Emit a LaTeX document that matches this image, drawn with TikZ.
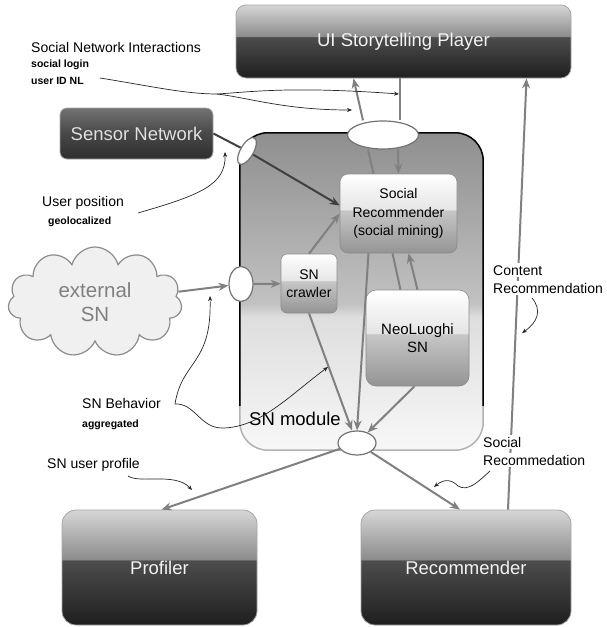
\documentclass[tikz,border=0pt]{standalone}
\usepackage{fontspec}
\setmainfont{Liberation Sans}
\usetikzlibrary{shapes.geometric,shapes.symbols,arrows.meta}
\pgfdeclarelayer{fg}
\pgfsetlayers{main,fg}
\pgfdeclareverticalshading{darkgloss}{100bp}{rgb(0bp)=(0.12,0.12,0.12); rgb(25bp)=(0.12,0.12,0.12); rgb(53bp)=(0.30,0.30,0.30); rgb(53.6bp)=(0.55,0.55,0.55); rgb(75bp)=(0.84,0.84,0.84); rgb(100bp)=(0.84,0.84,0.84)}
\pgfdeclareverticalshading{sensorsh}{100bp}{rgb(0bp)=(0.18,0.18,0.18); rgb(25bp)=(0.18,0.18,0.18); rgb(50bp)=(0.28,0.28,0.28); rgb(75bp)=(0.45,0.45,0.45); rgb(100bp)=(0.45,0.45,0.45)}
\pgfdeclareverticalshading{lightgloss}{100bp}{rgb(0bp)=(0.58,0.58,0.58); rgb(25bp)=(0.58,0.58,0.58); rgb(52bp)=(0.78,0.78,0.78); rgb(52.6bp)=(0.9,0.9,0.9); rgb(75bp)=(1,1,1); rgb(100bp)=(1,1,1)}
\pgfdeclareverticalshading{contsh}{100bp}{rgb(0bp)=(0.97,0.97,0.97); rgb(25bp)=(0.97,0.97,0.97); rgb(46bp)=(0.87,0.87,0.87); rgb(48bp)=(0.76,0.76,0.76); rgb(75bp)=(0.56,0.56,0.56); rgb(100bp)=(0.56,0.56,0.56)}
\begin{document}
\begin{tikzpicture}[x=1pt,y=-1pt,
  darkbox/.style={rectangle, rounded corners=10pt, shading=darkgloss, draw=black!35, line width=0.8pt, text=white!95!black, font=\fontsize{18.5}{22}\selectfont, inner sep=0pt},
  lightbox/.style={rectangle, rounded corners=8pt, shading=lightgloss, draw=black!45, line width=0.6pt, text=black, font=\fontsize{14}{18.5}\selectfont, align=center, inner sep=0pt},
  port/.style={ellipse, fill=white, draw=black!55, line width=1.2pt, inner sep=0pt},
  garrow/.style={draw=black!50, line width=2pt, -{Stealth[length=10pt,width=8pt]}},
  gline/.style={draw=black!50, line width=2pt},
  darrow/.style={draw=black!75, line width=2pt, -{Stealth[length=10pt,width=8pt]}},
  dline/.style={draw=black!75, line width=2pt},
  tarrow/.style={draw=black!85, line width=0.7pt, -{Stealth[length=5pt,width=4pt]}},
  tline/.style={draw=black!85, line width=0.7pt},
  lbl/.style={anchor=base west, inner sep=0pt, font=\fontsize{14}{17}\selectfont},
  sublbl/.style={anchor=base west, inner sep=0pt, font=\bfseries\fontsize{10.5}{12}\selectfont},
  wlbl/.style={anchor=base west, inner sep=2pt, fill=white, font=\fontsize{14}{17}\selectfont}
]
\useasboundingbox (0,0) rectangle (606,627);
% SN module container
\node[rectangle, rounded corners=28pt, shading=contsh, minimum width=243pt, minimum height=317pt, inner sep=0pt] (cont) at (361.5,291.5) {};
\draw[black!30, line width=1.5pt, rounded corners=28pt] (cont.south west) rectangle (cont.north east);
\begin{scope}
  \clip (230,120) rectangle (495,405);
  \draw[black, line width=1.5pt, rounded corners=28pt] (cont.south west) rectangle (cont.north east);
\end{scope}
\node[lbl, font=\fontsize{18.5}{22}\selectfont] (snmod) at (249,425) {SN module};

% boxes
\node[darkbox, minimum width=335pt, minimum height=73pt] (ui) at (403.5,41.5) {UI Storytelling Player};
\node[darkbox, shading=sensorsh, rounded corners=7pt, minimum width=153pt, minimum height=51pt, text=white!88!black] (sensor) at (136.5,133.5) {Sensor Network};
\node[darkbox, minimum width=195pt, minimum height=115pt, rounded corners=14pt] (prof) at (159.5,567.5) {Profiler};
\node[darkbox, minimum width=210pt, minimum height=115pt, rounded corners=14pt] (rec) at (466,567.5) {Recommender};
\node[lightbox, minimum width=117pt, minimum height=79pt] (sr) at (398.5,213.5) {Social\\Recommender\\(social mining)};
\node[lightbox, minimum width=56pt, minimum height=59pt, rounded corners=6pt] (crawl) at (309,283.5) {SN\\crawler};
\node[lightbox, minimum width=103pt, minimum height=96pt, rounded corners=10pt, font=\fontsize{15}{18}\selectfont] (neo) at (417.5,338) {NeoLuoghi\\SN};
\node[cloud, cloud puffs=11, aspect=1.6, draw=black!45, line width=1.2pt, fill=black!6, text=black!50, align=center, font=\fontsize{20.5}{24}\selectfont, minimum width=174pt, minimum height=110pt] (ecloud) at (95,302) {external\\SN};

% labels
\node[lbl] (sni) at (31,52) {Social Network Interactions};
\node[sublbl] (slog) at (31,67) {social login};
\node[sublbl] (uid) at (31,84) {user ID NL};
\node[lbl] (upos) at (42,206) {User position};
\node[sublbl] (geo) at (48,224) {geolocalized};
\node[lbl] (sbh) at (82,408) {SN Behavior};
\node[sublbl] (agg) at (82,427) {aggregated};
\node[lbl] (snup) at (47,468) {SN user profile};

\begin{pgfonlayer}{fg}
  \node[port, minimum width=71pt, minimum height=28pt] (etop) at (383,135) {};
  \node[port, minimum width=13pt, minimum height=30pt, rotate=-30] (esens) at (247,151) {};
  \node[port, minimum width=24pt, minimum height=35pt] (emid) at (241,284) {};
  \node[port, minimum width=38pt, minimum height=24pt] (ebot) at (357,443) {};
  \node[wlbl] (cr1) at (491,275) {Content};
  \node[wlbl] (cr2) at (491,293) {Recommendation};
  \node[wlbl] (sr1) at (481,447) {Social};
  \node[wlbl] (sr2) at (481,465) {Recommedation};
\end{pgfonlayer}

% free ends of annotation curves
\coordinate (uidend) at (100,78);
\coordinate (uidsplit) at (217,94);
\coordinate (uposend) at (138,213);
\coordinate (sbhend) at (175,404);
\coordinate (crend) at (532,298);
\coordinate (srend) at (490,471);
\coordinate (snupend) at (128,476);

% main connectors
\draw[dline] (sensor.east) -- (esens);
\draw[darrow] (esens) -- ([yshift=8pt]sr.west);
\draw[garrow] ([xshift=-20pt]etop.north) -- ([xshift=-50pt]ui.south);
\draw[gline] ([xshift=-3.5pt]ui.south) -- ([xshift=17pt]etop.north);
\draw[garrow] ([xshift=15pt]etop.south) -- (sr.north);
\draw[gline] ([xshift=-25pt]sr.north) -- ([xshift=-15pt]etop.south);
\draw[garrow] (ecloud) -- (emid);
\draw[garrow] (emid) -- (crawl);
\draw[garrow] (crawl.north) -- (sr.west);
\draw[garrow] (crawl.south) -- ([xshift=-5pt]ebot.north);
\draw[garrow] ([xshift=-30pt]sr.south) -- (ebot.north);
\draw[gline] ([xshift=-6pt]sr.south) -- ([xshift=-17pt]neo.north);
\draw[garrow] (neo.north) -- ([xshift=10pt]sr.south);
\draw[garrow] ([xshift=-3pt]neo.south) -- (ebot);
\draw[garrow] (ebot) -- ([xshift=2pt]prof.north);
\draw[garrow] (ebot) -- ([xshift=-6pt]rec.north);
\draw[garrow] ([xshift=42pt]rec.north) -- ([xshift=123pt]ui.south);

% annotation curves
\draw[tline] (uidend) .. controls (150,86) and (185,94) .. (uidsplit);
\draw[tarrow] (uidsplit) .. controls (250,92) and (290,86) .. (399,94);
\draw[tarrow] (uidsplit) .. controls (250,98) and (285,110) .. (352,110);
\draw[tarrow] (uposend) .. controls (200,195) and (226,185) .. (225,152);
\draw[tarrow] (sbhend) .. controls (182,360) and (212,365) .. (210,296);
\draw[tarrow] (sbhend) .. controls (195,403) and (200,428) .. (222,428) .. controls (260,428) and (290,395) .. (328,367);
\draw[tarrow] (crend) .. controls (542,310) and (538,322) .. (522,333);
\draw[tarrow] (srend) .. controls (478,482) and (468,492) .. (458,486) .. controls (452,480) and (445,478) .. (434,487);
\draw[tarrow] (snupend) .. controls (140,484) and (175,472) .. (192,490);
\end{tikzpicture}
\end{document}
